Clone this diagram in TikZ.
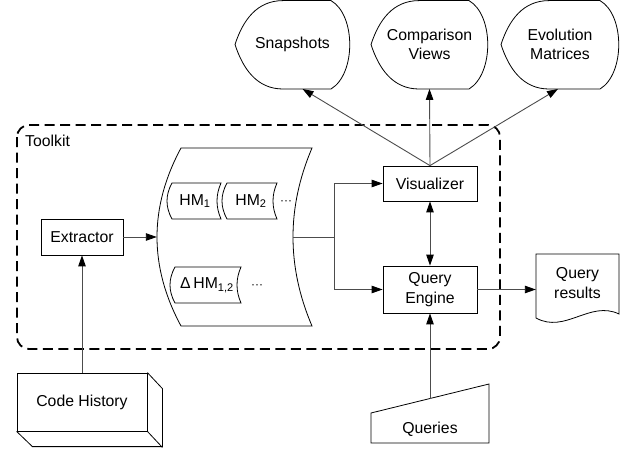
\documentclass[tikz,border=0pt]{standalone}
\usepackage{fontspec}
\setmainfont{Liberation Sans}
\usetikzlibrary{arrows.meta,calc}
\tikzset{
  shp/.style={draw=black, line width=0.8pt},
  box/.style={shp, rectangle, inner sep=0pt, align=center},
  lbl/.style={inner sep=0pt, align=center},
  wire/.style={draw=black!70, line width=0.9pt},
  conn/.style={wire, -{Triangle[length=11pt,width=7.5pt,black]}},
  dconn/.style={wire, {Triangle[length=11pt,width=7.5pt,black]}-{Triangle[length=11pt,width=7.5pt,black]}},
  kit/.style={draw=black, line width=1.8pt, dash pattern=on 10pt off 5.5pt, rounded corners=12pt}
}
% stored-data shape: x1 x2 ytop ybot leftbulge rightbulge
\newcommand\sdshape[6]{%
  \draw[shp] (#1,#3) -- (#2,#3)
    .. controls ({#2-1.333*#6},{#3+(#4-#3)/3}) and ({#2-1.333*#6},{#4-(#4-#3)/3}) .. (#2,#4)
    -- (#1,#4)
    .. controls ({#1-1.333*#5},{#4-(#4-#3)/3}) and ({#1-1.333*#5},{#3+(#4-#3)/3}) .. cycle;}
% display shape: xleft xright
\newcommand\dispshape[2]{%
  \draw[shp] (#1,44.5) .. controls ({#1+8},20) and ({#1+22},0.6) .. ({#1+48},0.6)
    -- ({#2-19},0.6) .. controls ({#2+6},15) and ({#2+6},74) .. ({#2-19},89)
    -- ({#1+48},89) .. controls ({#1+22},89) and ({#1+8},69) .. cycle;}
\begin{document}
\begin{tikzpicture}[x=1pt,y=-1pt,font=\fontsize{15.8}{19.5}\selectfont]
\useasboundingbox (0,0) rectangle (632,452);

% toolkit container
\draw[kit] (17,125) rectangle (500,349);
\node[lbl, anchor=west] (tk) at (25,140.5) {Toolkit};

% top display shapes
\dispshape{235}{350}
\dispshape{371}{488}
\dispshape{501}{619}
\node[lbl, minimum width=115pt, minimum height=88.5pt] (snap) at (292.5,44.5) {Snapshots};
\node[lbl, minimum width=117pt, minimum height=88.5pt] (cmp) at (429.5,44.5) {Comparison\\Views};
\node[lbl, minimum width=118pt, minimum height=88.5pt] (evo) at (560,44.5) {Evolution\\Matrices};

% boxes
\node[box, minimum width=82pt, minimum height=36pt] (ext) at (82,237) {Extractor};
\node[box, minimum width=94pt, minimum height=35pt] (vis) at (430,183.5) {Visualizer};
\node[box, minimum width=94pt, minimum height=47pt] (qe) at (430,289.5) {Query\\Engine};

% stored data (heat maps)
\sdshape{181}{312}{148}{326}{24}{19}
\node[lbl, minimum width=136pt, minimum height=178pt] (sd) at (225,237) {};
\sdshape{172}{221}{183}{219}{5}{4}
\sdshape{227}{277}{183}{219}{5}{4}
\sdshape{175}{241}{267}{303}{5}{4}
\node[lbl] (hm1) at (195,201) {HM\textsubscript{1}};
\node[lbl] (hm2) at (251,201) {HM\textsubscript{2}};
\node[lbl] (dots1) at (286,203) {\fontsize{12}{12}\selectfont ···};
\node[lbl] (dhm) at (207,285.5) {Δ\,HM\textsubscript{1,2}};
\node[lbl] (dots2) at (257,287) {\fontsize{12}{12}\selectfont ···};

% code history (3D box)
\node[box, minimum width=130pt, minimum height=58pt] (ch) at (82,402) {Code History};
\draw[shp] (ch.north east) -- ++(15,16) -- ++(0,58) -- ++(-130,0) -- (ch.south west);
\draw[shp] (ch.south east) -- ++(15,16);

% queries (manual input)
\draw[shp] (371,413) -- (489,384) -- (489,443) -- (371,443) -- cycle;
\node[lbl] (q) at (430,429) {Queries};
\coordinate (qtop) at (430,398.5);

% query results (document)
\draw[shp] (536,254) -- (619,254) -- (619,314)
  .. controls (590,300) and (565,334) .. (536,318) -- cycle;
\node[lbl, minimum width=83pt] (qr) at (577.5,283) {Query\\results};

% connectors
\draw[conn] (ch.north) -- (ext.south);
\draw[conn] (ext.east) -- (sd.west);
\draw[wire] (sd.east) -- ++(41,0) coordinate (j);
\draw[conn] (j) |- (vis.west);
\draw[conn] (j) |- (qe.west);
\draw[dconn] (vis.south) -- (qe.north);
\draw[conn] (qtop) -- (qe.south);
\draw[conn] (qe.east) -- (qe.east -| qr.west);
\draw[conn] (vis.north) -- ([xshift=10pt]snap.south);
\draw[conn] (vis.north) -- (cmp.south);
\draw[conn] (vis.north) -- ([xshift=-2pt]evo.south);
\end{tikzpicture}
\end{document}
